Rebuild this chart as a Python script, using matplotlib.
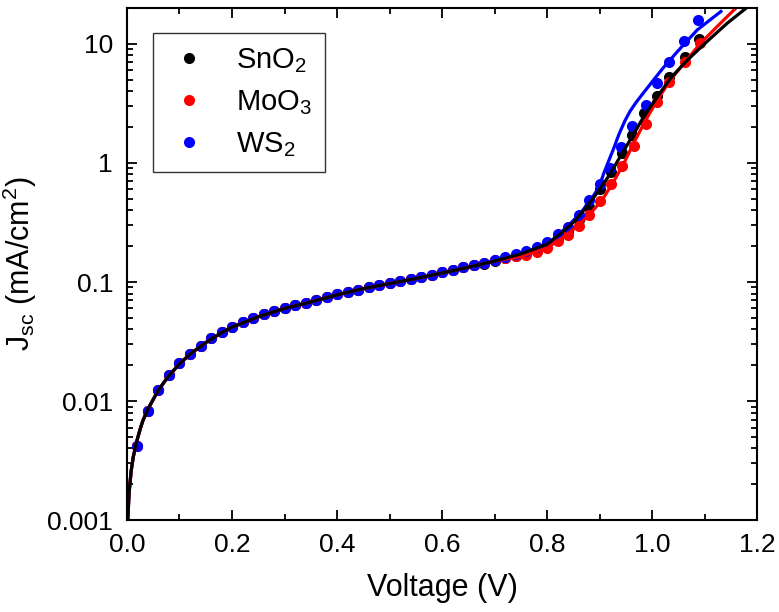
import matplotlib
matplotlib.use("Agg")
import matplotlib.pyplot as plt
from matplotlib.ticker import MultipleLocator, LogLocator, FixedLocator, FixedFormatter, NullFormatter
import numpy as np

plt.rcParams['font.family'] = ['Liberation Sans', 'DejaVu Sans']
plt.rcParams['mathtext.fontset'] = 'custom'
plt.rcParams['mathtext.rm'] = 'Liberation Sans'
plt.rcParams['mathtext.it'] = 'Liberation Sans:italic'

# measured points (voltage in V, current density in mA/cm2)
v_low = [0.02, 0.04, 0.06, 0.08, 0.10, 0.12, 0.14, 0.16, 0.18, 0.20,
         0.22, 0.24, 0.26, 0.28, 0.30, 0.32, 0.34, 0.36, 0.38, 0.40,
         0.42, 0.44, 0.46, 0.48, 0.50, 0.52, 0.54, 0.56, 0.58, 0.60,
         0.62, 0.64, 0.66]
j_low = [0.0042, 0.0083, 0.0124, 0.0166, 0.0207, 0.0248, 0.0292, 0.0336, 0.0378, 0.042,
         0.046, 0.050, 0.0535, 0.057, 0.060, 0.0635, 0.067, 0.070, 0.0745, 0.079,
         0.082, 0.086, 0.090, 0.094, 0.0985, 0.102, 0.106, 0.110, 0.115, 0.121,
         0.127, 0.133, 0.139]

v_sno2 = [0.68, 0.70, 0.72, 0.74, 0.76, 0.78, 0.80, 0.82, 0.84, 0.86, 0.88, 0.90,
          0.921, 0.942, 0.961, 0.984, 1.01, 1.032, 1.062, 1.09]
j_sno2 = [0.143, 0.150, 0.158, 0.166, 0.175, 0.190, 0.210, 0.235, 0.27, 0.33, 0.43, 0.60,
          0.846, 1.21, 1.72, 2.62, 3.66, 5.25, 7.8, 11.0]

v_moo3 = [0.68, 0.70, 0.72, 0.74, 0.76, 0.78, 0.80, 0.82, 0.84, 0.86, 0.88, 0.90,
          0.921, 0.942, 0.965, 0.988, 1.01, 1.032, 1.062, 1.092]
j_moo3 = [0.145, 0.152, 0.159, 0.164, 0.168, 0.178, 0.193, 0.222, 0.248, 0.295, 0.366, 0.48,
          0.667, 0.95, 1.40, 2.13, 3.27, 4.82, 7.1, 10.1]

v_ws2 = [0.68, 0.70, 0.72, 0.74, 0.76, 0.78, 0.80, 0.82, 0.84, 0.86, 0.88, 0.90,
         0.92, 0.94, 0.961, 0.988, 1.01, 1.032, 1.061, 1.088]
j_ws2 = [0.145, 0.153, 0.161, 0.171, 0.182, 0.198, 0.218, 0.252, 0.29, 0.366, 0.49, 0.67,
         0.90, 1.37, 2.05, 3.07, 4.73, 7.1, 10.5, 15.7]

# fitted curves
fit_v_low = [0.0015, 0.004, 0.008, 0.012, 0.018, 0.025, 0.03, 0.04, 0.06, 0.08,
             0.10, 0.12, 0.15, 0.18, 0.20, 0.25, 0.30, 0.35, 0.40, 0.45,
             0.50, 0.55, 0.60, 0.65]
fit_j_low = [0.001, 0.0017, 0.0026, 0.0034, 0.0045, 0.0058, 0.0068, 0.0086, 0.0124, 0.0164,
             0.0205, 0.0248, 0.031, 0.0375, 0.0418, 0.051, 0.060, 0.068, 0.078, 0.088,
             0.097, 0.107, 0.119, 0.133]

fit_v_sno2 = [0.70, 0.75, 0.80, 0.826, 0.851, 0.876, 0.899, 0.921, 0.943, 0.962,
              0.984, 1.01, 1.035, 1.067, 1.105, 1.143, 1.175, 1.19]
fit_j_sno2 = [0.150, 0.172, 0.208, 0.256, 0.32, 0.43, 0.59, 0.82, 1.21, 1.66,
              2.45, 3.6, 5.15, 7.3, 10.5, 14.9, 19.3, 22.0]

fit_v_moo3 = [0.70, 0.75, 0.80, 0.832, 0.857, 0.883, 0.905, 0.927, 0.946, 0.965,
              0.988, 1.01, 1.035, 1.061, 1.092, 1.124, 1.156, 1.17]
fit_j_moo3 = [0.150, 0.164, 0.193, 0.240, 0.292, 0.378, 0.49, 0.70, 0.99, 1.47,
              2.30, 3.38, 4.98, 6.9, 10.1, 14.0, 19.3, 22.0]

fit_v_ws2 = [0.70, 0.75, 0.80, 0.838, 0.864, 0.886, 0.899, 0.908, 0.918, 0.927,
             0.937, 0.948, 0.958, 0.970, 0.984, 1.000, 1.020, 1.048, 1.086, 1.131]
fit_j_ws2 = [0.152, 0.172, 0.205, 0.29, 0.38, 0.51, 0.63, 0.82, 1.06, 1.33,
             1.75, 2.25, 2.72, 3.25, 3.9, 4.8, 6.2, 8.6, 13.1, 18.7]

labels = ["SnO$_2$", "MoO$_3$", "WS$_2$"]
colors = ["black", "red", "blue"]

fig = plt.figure(figsize=(7.79, 6.12), dpi=100)
ax = fig.add_axes([0.163, 0.150, 0.809, 0.837])

pts = [(v_sno2, j_sno2), (v_moo3, j_moo3), (v_ws2, j_ws2)]
fits = [(fit_v_sno2, fit_j_sno2), (fit_v_moo3, fit_j_moo3), (fit_v_ws2, fit_j_ws2)]

for (v, j), c, lab in zip(pts, colors, labels):
    ax.plot(v_low + v, j_low + j, 'o', color=c, ms=8, mec='none', label=lab)

for (v, j), c in list(zip(fits, colors))[::-1]:
    ax.plot(fit_v_low + v, fit_j_low + j, '-', color=c, lw=2.3)

ax.set_yscale('log')
ax.set_xlim(0, 1.2)
ax.set_ylim(0.001, 20)

ax.xaxis.set_major_locator(MultipleLocator(0.2))
ax.xaxis.set_minor_locator(MultipleLocator(0.1))
ax.xaxis.set_major_formatter(plt.FuncFormatter(lambda x, p: f"{x:.1f}"))
yt = [0.001, 0.01, 0.1, 1, 10]
ax.yaxis.set_major_locator(FixedLocator(yt))
ax.yaxis.set_major_formatter(FixedFormatter(["0.001", "0.01", "0.1", "1", "10"]))
ax.yaxis.set_minor_locator(LogLocator(base=10, subs=np.arange(2, 10), numticks=20))
ax.yaxis.set_minor_formatter(NullFormatter())

ax.tick_params(which='both', direction='in', top=True, right=True, width=1.3, labelsize=19)
ax.tick_params(which='major', length=7)
ax.tick_params(which='minor', length=4)
ax.tick_params(axis='x', which='major', pad=9)
ax.tick_params(axis='y', which='major', pad=10)
for s in ax.spines.values():
    s.set_linewidth(1.5)

ax.set_xlabel("Voltage (V)", fontsize=22, labelpad=12)
ax.set_ylabel(r"J$_{\mathregular{sc}}$ (mA/cm$^2$)", fontsize=22, labelpad=6)

leg = ax.legend(loc='upper left', bbox_to_anchor=(0.041, 0.951), borderaxespad=0,
                fontsize=21, frameon=True, fancybox=False, edgecolor='black',
                handletextpad=0.8, borderpad=0.45, handlelength=1.6, labelspacing=0.45)
leg.get_frame().set_linewidth(1.0)

fig.savefig("out.png", dpi=100)
